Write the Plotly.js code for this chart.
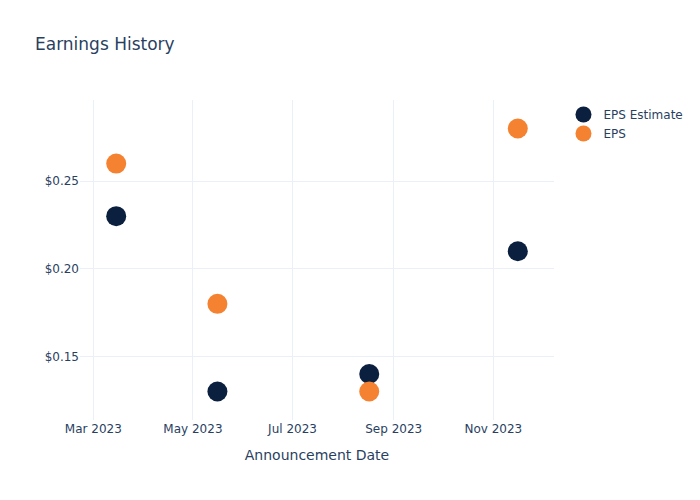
<!DOCTYPE html>
<html>
<head>
<meta charset="utf-8">
<script src="https://cdn.plot.ly/plotly-3.0.1.min.js"></script>
<style>html,body{margin:0;padding:0;background:#fff;}#chart{width:700px;height:500px;}</style>
</head>
<body>
<div id="chart"></div>
<script>
const dates = ["2023-03-15", "2023-05-16", "2023-08-17", "2023-11-16"];
const epsEstimate = [0.23, 0.13, 0.14, 0.21];
const eps = [0.26, 0.18, 0.13, 0.28];

const traces = [
  {x: dates, y: epsEstimate, name: "EPS Estimate", type: "scatter", mode: "markers",
   marker: {color: "#0b1f3f", size: 20}},
  {x: dates, y: eps, name: "EPS", type: "scatter", mode: "markers",
   marker: {color: "#f58231", size: 20}}
];

const layout = {
  width: 700, height: 500,
  font: {family: "'DejaVu Sans', verdana, sans-serif", color: "#2a3f5f", size: 12},
  paper_bgcolor: "#fff", plot_bgcolor: "#fff",
  title: {text: "Earnings History", x: 0.05, font: {size: 17, color: "#2a3f5f"}},
  xaxis: {title: {text: "Announcement Date", font: {size: 14}, standoff: 15}, type: "date",
          gridcolor: "#EBF0F8", zeroline: false, tickformat: "%b %Y",
          dtick: "M2", tick0: "2023-01-01", ticks: "", showline: false},
  yaxis: {tickprefix: "$", tickformat: ".2f", dtick: 0.05, gridcolor: "#EBF0F8",
          zeroline: false, ticks: "", showline: false},
  legend: {font: {size: 12}},
  margin: {l: 80, r: 80, t: 100, b: 80}
};

Plotly.newPlot("chart", traces, layout, {displayModeBar: false});
</script>
</body>
</html>
